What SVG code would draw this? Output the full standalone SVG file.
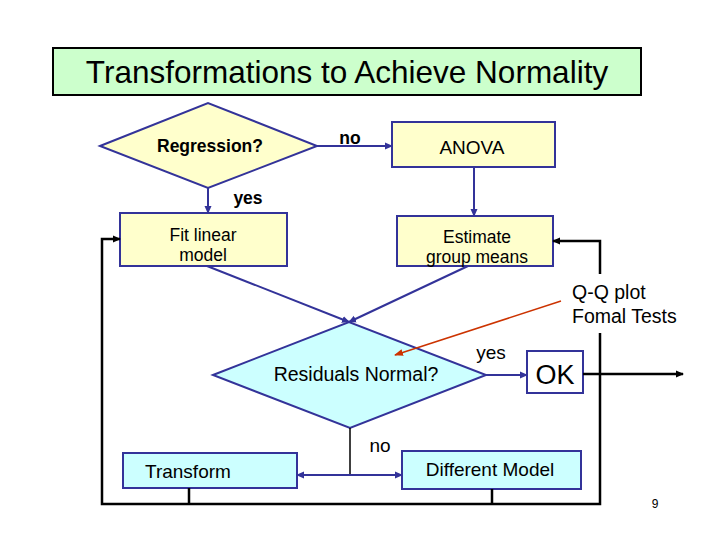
<svg xmlns="http://www.w3.org/2000/svg" width="720" height="540" viewBox="0 0 720 540">
<defs>
<style>
text{font-family:"Liberation Sans",Arial,sans-serif;fill:#000}
.b{font-weight:bold;font-size:17.5px}
.box{stroke:#333399;stroke-width:2}
.y{fill:#ffffcc}
.c{fill:#ccffff}
.bl{fill:none;stroke:#333399;stroke-width:2}
.bk{fill:none;stroke:#000;stroke-width:2.5}
.rd{fill:none;stroke:#cc3300;stroke-width:1.5}
</style>
<marker id="ab" markerWidth="8" markerHeight="8" refX="7" refY="4" orient="auto" markerUnits="userSpaceOnUse"><path d="M0,0.5 L8,4 L0,7.5 Z" fill="#333399"/></marker>
<marker id="ak" markerWidth="8" markerHeight="8" refX="7" refY="4" orient="auto" markerUnits="userSpaceOnUse"><path d="M0,0.5 L8,4 L0,7.5 Z" fill="#000"/></marker>
<marker id="ar" markerWidth="9" markerHeight="8" refX="8" refY="4" orient="auto" markerUnits="userSpaceOnUse"><path d="M0,0.5 L9,4 L0,7.5 Z" fill="#cc3300"/></marker>
</defs>
<rect width="720" height="540" fill="#fff"/>
<g id="title">
<rect x="53" y="48" width="588" height="47" fill="#ccffcc" stroke="#000" stroke-width="2"/>
<text x="347" y="83" font-size="31.5" text-anchor="middle">Transformations to Achieve Normality</text>
</g>
<g id="regression">
<polygon class="box y" points="100,146 208,103 317,146 208,188"/>
<text class="b" x="210" y="152" text-anchor="middle">Regression?</text>
</g>
<g id="anova">
<rect class="box y" x="392" y="122" width="163" height="45"/>
<text x="472" y="154" font-size="19" text-anchor="middle">ANOVA</text>
</g>
<g id="fit">
<rect class="box y" x="120" y="213" width="167" height="53"/>
<text x="203" y="241" font-size="17.5" text-anchor="middle">Fit linear</text>
<text x="203" y="261" font-size="17.5" text-anchor="middle">model</text>
</g>
<g id="estimate">
<rect class="box y" x="397" y="216" width="156" height="50"/>
<text x="477" y="243" font-size="17.5" text-anchor="middle">Estimate</text>
<text x="477" y="263" font-size="17.5" text-anchor="middle">group means</text>
</g>
<g id="residuals">
<polygon class="box c" points="213,375 349,322 486,375 350,428"/>
<text x="356" y="381" font-size="19.5" text-anchor="middle">Residuals Normal?</text>
</g>
<g id="ok">
<rect class="box" x="527" y="351" width="56" height="42" fill="#fff"/>
<text x="555" y="384" font-size="27" text-anchor="middle">OK</text>
</g>
<g id="tests">
<text x="572" y="299" font-size="19.5">Q-Q plot</text>
<text x="572" y="323" font-size="19.5">Fomal Tests</text>
</g>
<g id="transform">
<rect class="box c" x="123" y="453" width="174" height="35"/>
<text x="145" y="478" font-size="19">Transform</text>
</g>
<g id="different">
<rect class="box c" x="402" y="451" width="179" height="38"/>
<text x="490" y="476" font-size="19" text-anchor="middle">Different Model</text>
</g>
<g id="page">
<text x="655" y="508" font-size="12" text-anchor="middle">9</text>
</g>
<g id="connectors">
<path class="bl" d="M317,146 H392" marker-end="url(#ab)"/>
<path class="bl" d="M208,188 V213" marker-end="url(#ab)"/>
<path class="bl" d="M474,167 V216" marker-end="url(#ab)"/>
<path class="bl" d="M207,266 L349,322" marker-end="url(#ab)"/>
<path class="bl" d="M468,266 L349,322" marker-end="url(#ab)"/>
<path class="bl" d="M486,375 H527" marker-end="url(#ab)"/>
<path d="M350,428 V475" fill="none" stroke="#000" stroke-width="1.5"/>
<path class="bl" d="M351,475 H402" marker-end="url(#ab)"/>
<path class="bl" d="M351,475 H297" marker-end="url(#ab)"/>
<path class="rd" d="M561,301 L395,355" marker-end="url(#ar)"/>
<path class="bk" d="M583,374 H683" marker-end="url(#ak)"/>
<path class="bk" d="M189,488 V504"/>
<path class="bk" d="M492,489 V504"/>
<path class="bk" d="M600,333 V504 H102 V239 H120" marker-end="url(#ak)"/>
<path class="bk" d="M600,274 V241 H553" marker-end="url(#ak)"/>
<text class="b" x="350" y="144" text-anchor="middle">no</text>
<text class="b" x="248" y="204" text-anchor="middle">yes</text>
<text x="491" y="359" font-size="19" text-anchor="middle">yes</text>
<text x="380" y="452" font-size="19" text-anchor="middle">no</text>
</g>
</svg>
